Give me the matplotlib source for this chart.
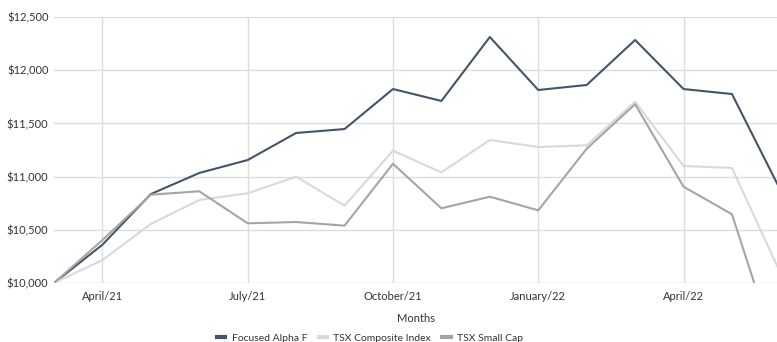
import matplotlib.pyplot as plt
from matplotlib.ticker import FuncFormatter

plt.rcParams['font.family'] = ['Lato', 'DejaVu Sans']

# monthly growth of $10,000, March/21 through June/22
months = ['March/21', 'April/21', 'May/21', 'June/21', 'July/21', 'August/21',
          'September/21', 'October/21', 'November/21', 'December/21',
          'January/22', 'February/22', 'March/22', 'April/22', 'May/22', 'June/22']
focused_alpha = [10000, 10360, 10836, 11034, 11156, 11410, 11447, 11823,
                 11711, 12312, 11814, 11861, 12284, 11823, 11776, 10874]
tsx_composite = [10000, 10216, 10555, 10780, 10843, 10999, 10727, 11243,
                 11040, 11344, 11278, 11294, 11704, 11100, 11081, 10094]
tsx_small_cap = [10000, 10404, 10830, 10862, 10561, 10573, 10539, 11121,
                 10702, 10811, 10683, 11262, 11680, 10905, 10646, 9242]

tick_idx = [1, 4, 7, 10, 13]
tick_labels = ['April/21', 'July/21', 'October/21', 'January/22', 'April/22']

fig = plt.figure(figsize=(7.77, 3.42), dpi=100)
ax = fig.add_axes([54 / 777, 59 / 342, 723 / 777, 266 / 342])

x = range(len(months))
ax.plot(x, focused_alpha, color='#44546a', lw=1.5, label='Focused Alpha F')
ax.plot(x, tsx_composite, color='#d9d9d9', lw=1.5, label='TSX Composite Index')
ax.plot(x, tsx_small_cap, color='#a5a5a5', lw=1.5, label='TSX Small Cap')

ax.set_xlim(0, 14.93)
ax.set_ylim(10000, 12500)
ax.set_yticks(range(10000, 12501, 500))
ax.yaxis.set_major_formatter(FuncFormatter(lambda v, p: f'${v:,.0f}'))
ax.set_xticks(tick_idx)
ax.set_xticklabels(tick_labels)

ax.grid(True, color='#dddddd', lw=1)
ax.set_axisbelow(True)
for s in ax.spines.values():
    s.set_visible(False)
ax.tick_params(length=0, labelsize=8, colors='#333333', pad=6)
ax.tick_params(axis='y', pad=4)

ax.set_xlabel('Months', fontsize=8, color='#333333', labelpad=8)

leg = fig.legend(loc='center', bbox_to_anchor=(370 / 777, 4 / 342), ncol=3,
                 frameon=False, fontsize=7.5, handlelength=0.8,
                 handletextpad=0.6, columnspacing=1.1)
for h in leg.get_lines():
    h.set_linewidth(3)
for t in leg.get_texts():
    t.set_color('#333333')

fig.savefig('out.png', dpi=100)
